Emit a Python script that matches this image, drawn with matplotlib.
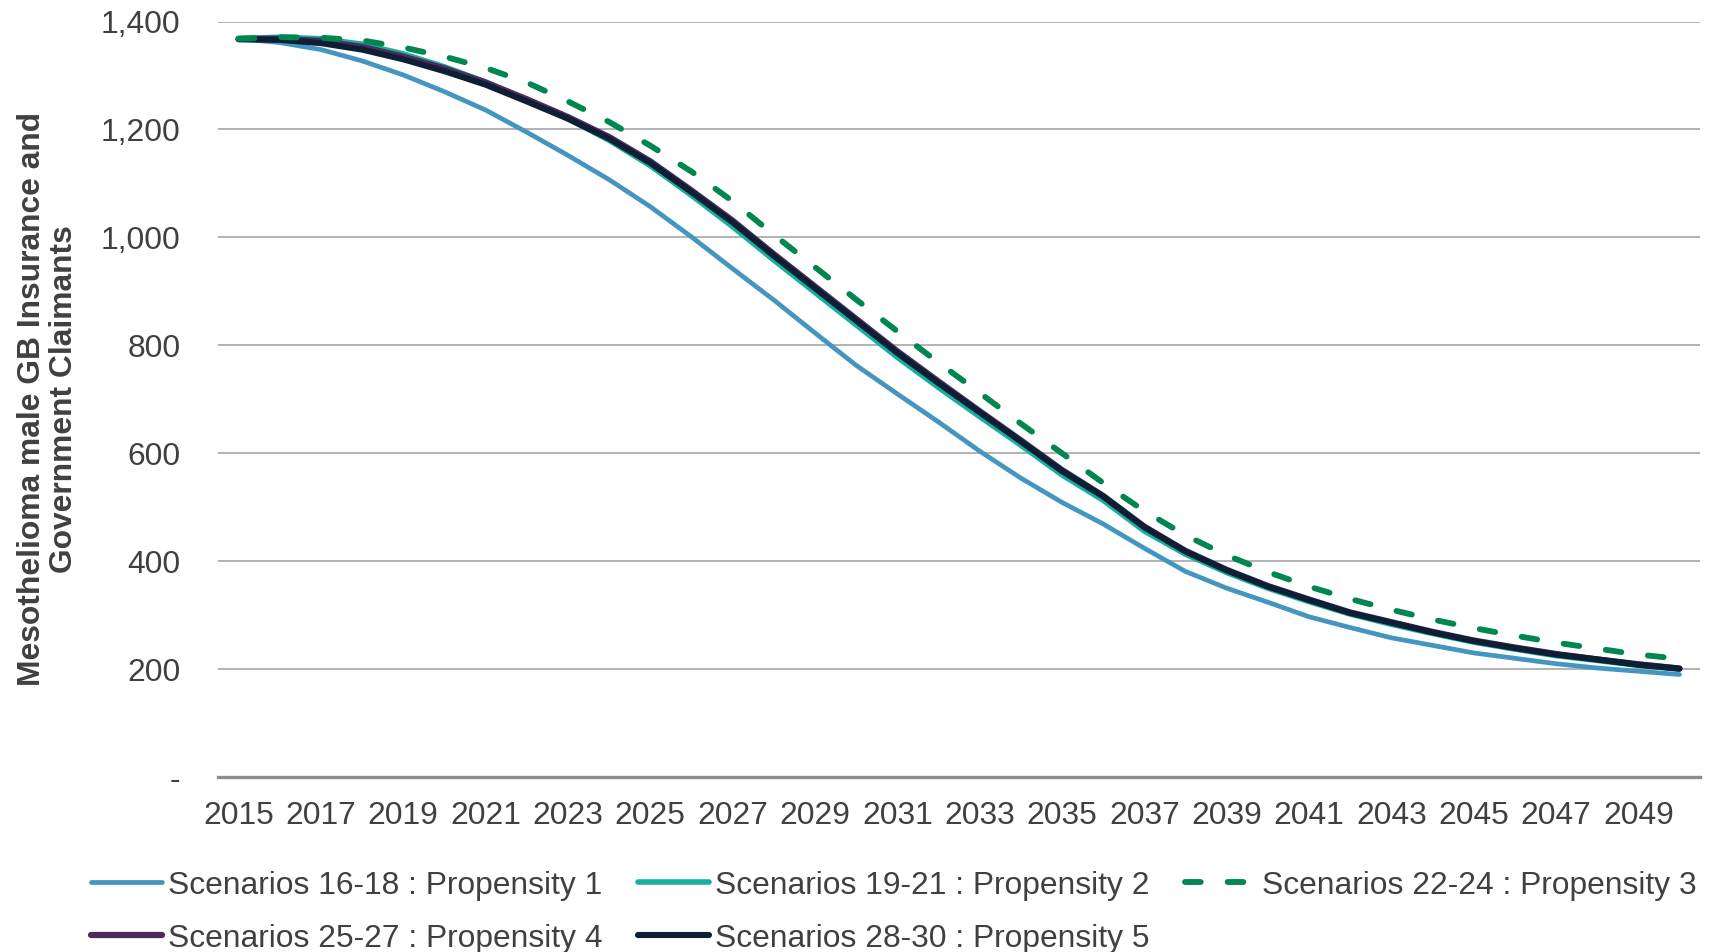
import matplotlib
matplotlib.use("Agg")
import matplotlib.pyplot as plt
from matplotlib.ticker import FuncFormatter, FixedLocator

plt.rcParams['font.family'] = ['Liberation Sans', 'DejaVu Sans']

years = list(range(2015, 2051))

p1 = [1368, 1361, 1348, 1327, 1301, 1270, 1236, 1195, 1152, 1107, 1057, 1001,
      942, 884, 823, 763, 710, 658, 604, 554, 509, 469, 424, 381, 350, 324,
      297, 277, 258, 244, 230, 220, 210, 202, 196, 190]
p2 = [1368, 1371, 1368, 1358, 1340, 1316, 1288, 1255, 1220, 1180, 1133, 1078,
      1020, 958, 898, 838, 778, 722, 668, 615, 560, 513, 456, 413, 379, 350,
      325, 302, 283, 266, 250, 237, 225, 216, 207, 200]
p3 = [1368, 1371, 1370, 1365, 1352, 1335, 1314, 1287, 1252, 1214, 1170, 1122,
      1067, 1005, 945, 885, 826, 768, 712, 655, 600, 545, 493, 448, 411, 380,
      353, 330, 310, 292, 276, 262, 249, 238, 227, 219]
p4 = [1368, 1368, 1364, 1353, 1335, 1313, 1287, 1256, 1223, 1186, 1141, 1087,
      1031, 969, 909, 849, 789, 733, 678, 624, 569, 521, 464, 419, 384, 354,
      329, 305, 287, 269, 253, 240, 228, 218, 209, 201]
p5 = [1367, 1366, 1360, 1348, 1330, 1308, 1283, 1252, 1220, 1183, 1138, 1084,
      1028, 966, 906, 846, 786, 730, 676, 622, 567, 520, 463, 418, 383, 353,
      328, 304, 286, 268, 252, 239, 227, 218, 208, 201]

labels = ["Scenarios 16-18 : Propensity 1", "Scenarios 19-21 : Propensity 2",
          "Scenarios 22-24 : Propensity 3", "Scenarios 25-27 : Propensity 4",
          "Scenarios 28-30 : Propensity 5"]
yticks = [0, 200, 400, 600, 800, 1000, 1200, 1400]
xticks = list(range(2015, 2050, 2))
ylabel = "Mesothelioma male GB Insurance and\nGovernment Claimants"

text_color = "#404040"
fs = 22.9

fig = plt.figure(figsize=(17.11, 9.52), dpi=100)
ax = fig.add_axes([0.1274, 0.1838, 0.8662, 0.7936])

l1, = ax.plot(years, p1, color="#4495BF", lw=3.4, label=labels[0], solid_capstyle='round', zorder=3)
l2, = ax.plot(years, p2, color="#17B0A0", lw=4.0, label=labels[1], solid_capstyle='round', zorder=4)
l3, = ax.plot(years, p3, color="#00864F", lw=4.2, label=labels[2], dashes=(2.7, 4.6),
              dash_capstyle='round', zorder=7)
l4, = ax.plot(years, p4, color="#4F2A5C", lw=4.5, label=labels[3], solid_capstyle='round', zorder=5)
l5, = ax.plot(years, p5, color="#0C1F35", lw=4.4, label=labels[4], solid_capstyle='round', zorder=6)

ax.set_xlim(2014.5, 2050.5)
ax.set_ylim(0, 1400)
ax.xaxis.set_major_locator(FixedLocator(xticks))
ax.yaxis.set_major_locator(FixedLocator(yticks))
ax.yaxis.set_major_formatter(FuncFormatter(lambda v, p: "-" if v == 0 else f"{v:,.0f}"))

ax.grid(axis='y', color="#A6A6A6", lw=1.2, zorder=0)
ax.set_axisbelow(True)
for s in ['top', 'right', 'left']:
    ax.spines[s].set_visible(False)
ax.spines['bottom'].set_color("#8C8C8C")
ax.spines['bottom'].set_linewidth(2.4)
ax.spines['bottom'].set_zorder(1)

ax.tick_params(axis='x', length=0, pad=17, labelsize=fs, labelcolor=text_color)
ax.tick_params(axis='y', length=0, pad=27, labelsize=fs, labelcolor=text_color)

ax.set_ylabel(ylabel, fontsize=fs, fontweight='bold', color=text_color, labelpad=16,
              linespacing=1.05)

# row-wise ordering for a 3-column legend (matplotlib fills column by column)
order = [l1, l4, l2, l5, l3]
fig.legend(order, [h.get_label() for h in order], loc='upper left',
           bbox_to_anchor=(0.053, 0.0855), ncol=3,
           frameon=False, fontsize=fs, handlelength=2.25, handletextpad=0.17,
           columnspacing=1.12, labelspacing=0.72, borderpad=0, borderaxespad=0,
           labelcolor=text_color)

fig.savefig("out.png", dpi=100)
